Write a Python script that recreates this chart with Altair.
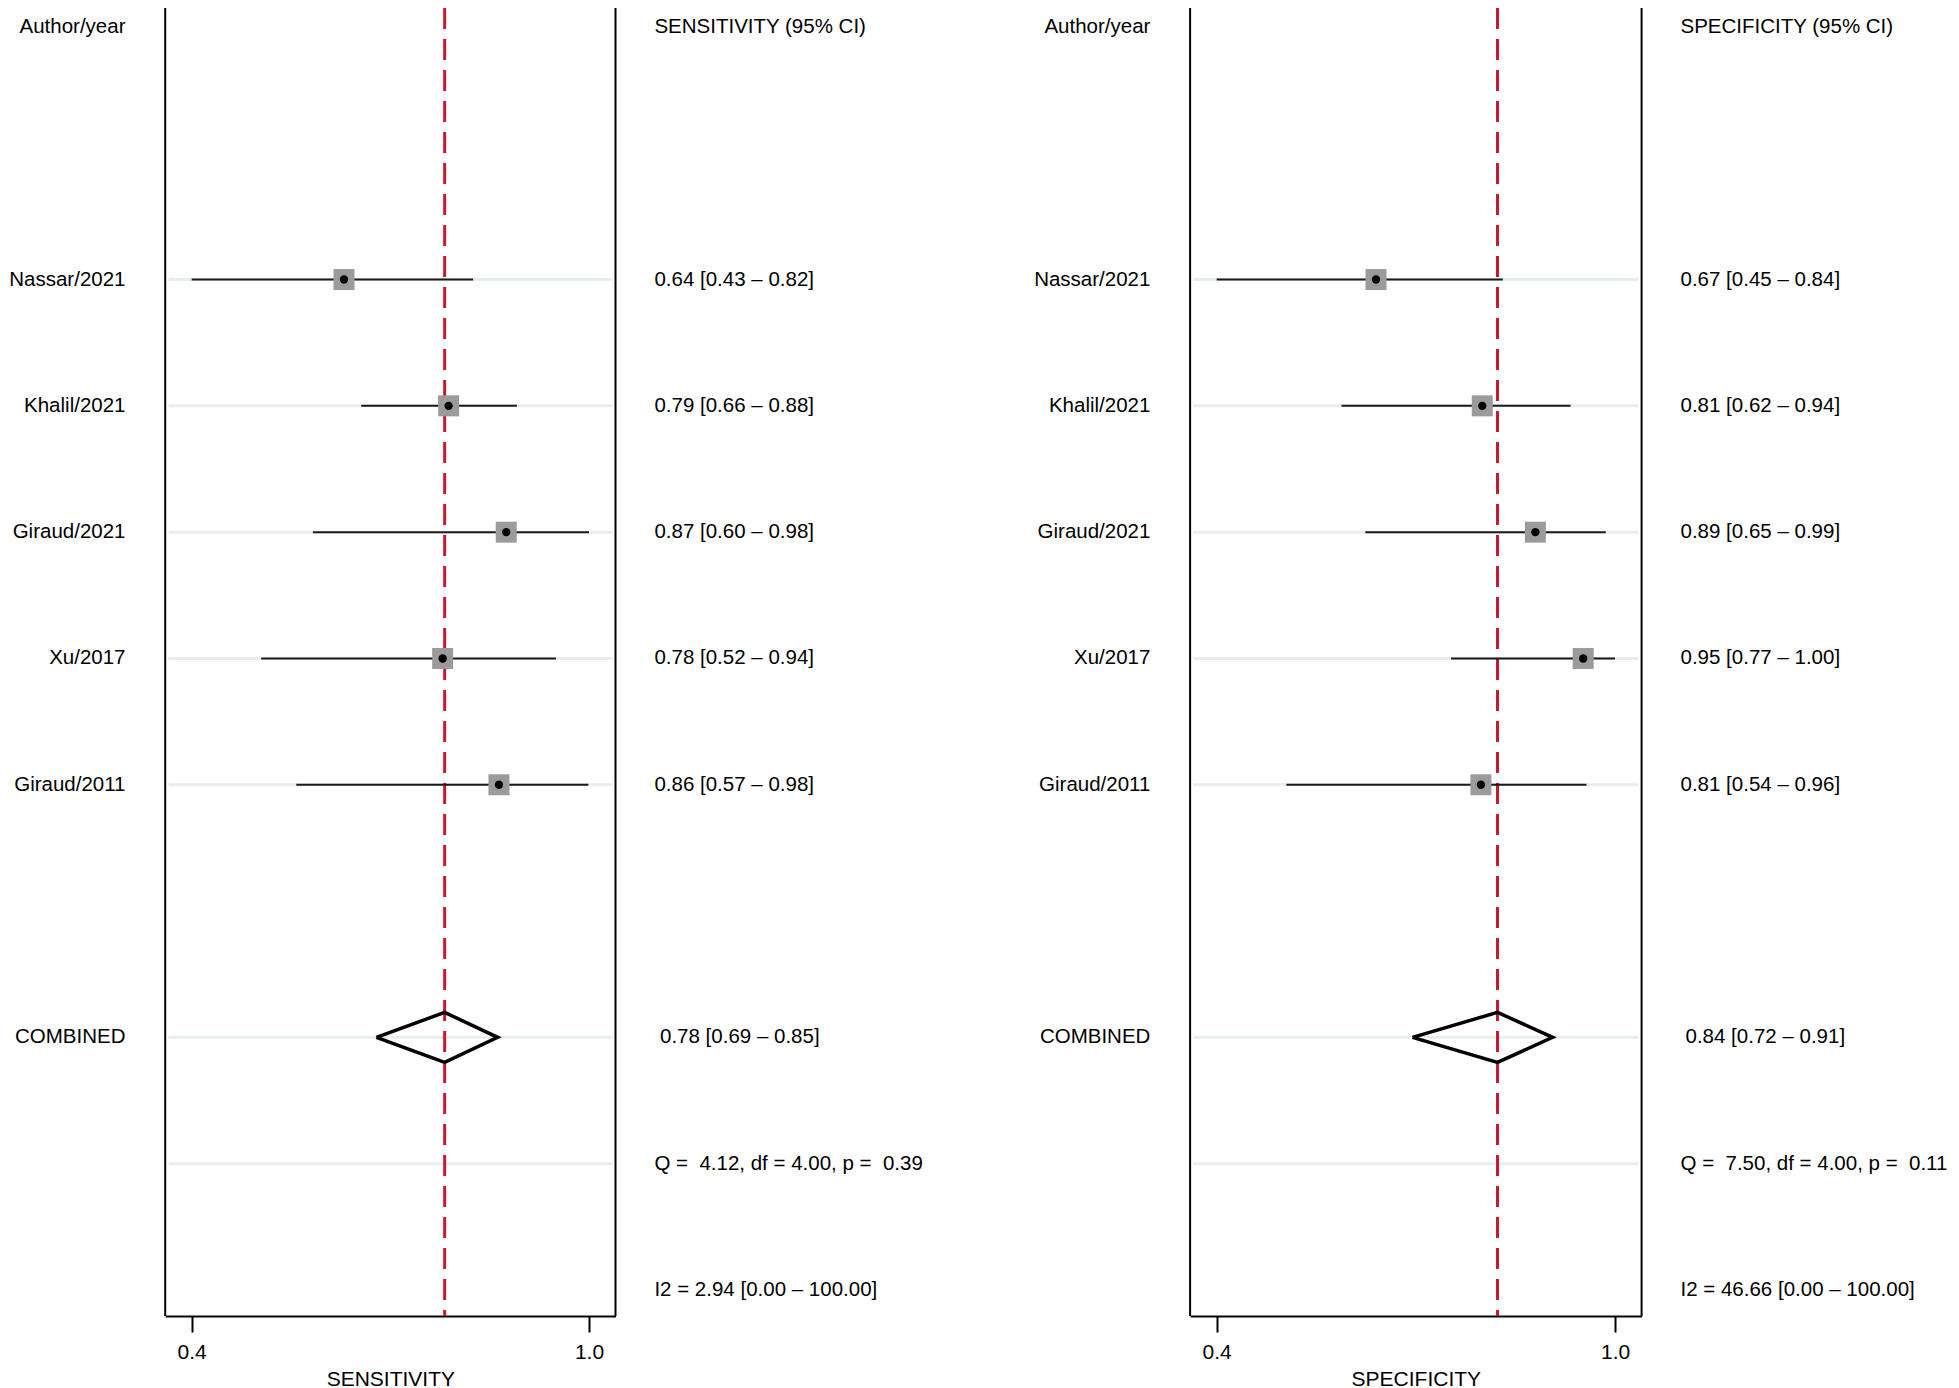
import altair as alt
import pandas as pd

# ---------------- data ----------------
studies = ["Nassar/2021", "Khalil/2021", "Giraud/2021", "Xu/2017", "Giraud/2011"]
study_rows = [2, 3, 4, 5, 6]
combined_row = 8
q_row = 9
i2_row = 10
grid_rows = [2, 3, 4, 5, 6, 8, 9]

# plotted positions
sens_est = [0.630, 0.788, 0.875, 0.779, 0.864]
sens_lo = [0.400, 0.656, 0.583, 0.505, 0.558]
sens_hi = [0.825, 0.891, 1.000, 0.950, 0.999]
sens_pooled = {"est": 0.782, "lo": 0.679, "hi": 0.862}

spec_est = [0.640, 0.800, 0.880, 0.952, 0.798]
spec_lo = [0.400, 0.588, 0.624, 0.753, 0.505]
spec_hi = [0.831, 0.933, 0.986, 1.000, 0.957]
spec_pooled = {"est": 0.823, "lo": 0.695, "hi": 0.906}

# printed texts
sens_text = ["0.64 [0.43 \u2013 0.82]", "0.79 [0.66 \u2013 0.88]", "0.87 [0.60 \u2013 0.98]",
             "0.78 [0.52 \u2013 0.94]", "0.86 [0.57 \u2013 0.98]"]
sens_combined_text = "0.78 [0.69 \u2013 0.85]"
sens_q_text = "Q = \u00a04.12, df = 4.00, p = \u00a00.39"
sens_i2_text = "I2 = 2.94 [0.00 \u2013 100.00]"

spec_text = ["0.67 [0.45 \u2013 0.84]", "0.81 [0.62 \u2013 0.94]", "0.89 [0.65 \u2013 0.99]",
             "0.95 [0.77 \u2013 1.00]", "0.81 [0.54 \u2013 0.96]"]
spec_combined_text = "0.84 [0.72 \u2013 0.91]"
spec_q_text = "Q = \u00a07.50, df = 4.00, p = \u00a00.11"
spec_i2_text = "I2 = 46.66 [0.00 \u2013 100.00]"

x_domain = [0.36, 1.04]
x_ticks = [0.4, 1.0]

# ---------------- layout ----------------
W = 1943
H = 1308
FONT = "Liberation Sans, Arial, sans-serif"
FS = 20.5
DIAMOND_HALF = 0.198
GRID_LO, GRID_HI = 0.365, 1.035

yscale = alt.Scale(domain=[-0.15, 10.206], reverse=True, nice=False, zero=False)


def panel(est, lo, hi, pooled, texts, comb_text, q_text, i2_text, title, header,
          xrange, name_x, val_x, comb_x):
    xs = alt.Scale(domain=x_domain, range=xrange, nice=False, zero=False)
    ax = alt.Axis(orient="bottom", values=x_ticks, format=".1f", grid=False,
                  tickSize=16, tickWidth=2, tickColor="black", domainColor="black",
                  domainWidth=2, labelFontSize=21, labelColor="black", labelFont=FONT,
                  labelPadding=9, titleFontSize=21, titleFont=FONT, titleFontWeight="normal",
                  titleColor="black", titlePadding=6, labelFlush=False)

    def X(field):
        return alt.X(field, type="quantitative", scale=xs, axis=ax, title=title)

    def Y(field="row"):
        return alt.Y(field, type="quantitative", scale=yscale, axis=None)

    sdf = pd.DataFrame({"study": studies, "row": study_rows, "est": est, "lo": lo,
                        "hi": hi, "txt": texts})
    gdf = pd.DataFrame({"row": grid_rows, "lo": [GRID_LO] * len(grid_rows),
                        "hi": [GRID_HI] * len(grid_rows)})
    fdf = pd.DataFrame({"x": x_domain})
    pdf = pd.DataFrame({"est": [pooled["est"]]})
    ddf = pd.DataFrame({
        "x": [pooled["lo"], pooled["est"], pooled["hi"], pooled["est"], pooled["lo"]],
        "row": [combined_row, combined_row - DIAMOND_HALF, combined_row,
                combined_row + DIAMOND_HALF, combined_row],
        "ord": [0, 1, 2, 3, 4],
    })
    name_df = pd.DataFrame({"row": [0] + study_rows + [combined_row],
                            "txt": ["Author/year"] + studies + ["COMBINED"]})
    val_df = pd.DataFrame({"row": [0] + study_rows + [q_row, i2_row],
                           "txt": [header] + texts + [q_text, i2_text]})
    comb_df = pd.DataFrame({"row": [combined_row], "txt": [comb_text]})

    grid = alt.Chart(gdf).mark_rule(color="#e6edf1", strokeWidth=3).encode(
        x=X("lo"), x2="hi", y=Y())
    frame = alt.Chart(fdf).mark_rule(color="black", strokeWidth=2).encode(
        x=X("x"), y=alt.value(0), y2=alt.value(H))
    ci = alt.Chart(sdf).mark_rule(color="#1a1a1a", strokeWidth=2).encode(
        x=X("lo"), x2="hi", y=Y())
    ref = alt.Chart(pdf).mark_rule(color="#c8192e", strokeWidth=3, strokeDash=[21, 10]).encode(
        x=X("est"), y=alt.value(0), y2=alt.value(H))
    sq = alt.Chart(sdf).mark_square(size=441, color="#9b9b9b", opacity=1, filled=True).encode(
        x=X("est"), y=Y())
    dot = alt.Chart(sdf).mark_circle(size=70, color="black", opacity=1).encode(
        x=X("est"), y=Y())
    diamond = alt.Chart(ddf).mark_line(color="black", strokeWidth=3.5, strokeJoin="miter").encode(
        x=X("x"), y=Y(), order="ord:Q")
    names = alt.Chart(name_df).mark_text(align="right", baseline="middle", fontSize=FS,
                                         font=FONT, color="black").encode(
        x=alt.value(name_x), y=Y(), text="txt:N")
    vals = alt.Chart(val_df).mark_text(align="left", baseline="middle", fontSize=FS,
                                       font=FONT, color="black").encode(
        x=alt.value(val_x), y=Y(), text="txt:N")
    comb = alt.Chart(comb_df).mark_text(align="left", baseline="middle", fontSize=FS,
                                        font=FONT, color="black").encode(
        x=alt.value(comb_x), y=Y(), text="txt:N")

    return alt.layer(grid, ref, ci, sq, dot, diamond, frame, names, vals, comb)


left = panel(sens_est, sens_lo, sens_hi, sens_pooled, sens_text, sens_combined_text,
             sens_q_text, sens_i2_text, "SENSITIVITY", "SENSITIVITY (95% CI)",
             [157.2, 607.5], 117.5, 646.4, 652)
right = panel(spec_est, spec_lo, spec_hi, spec_pooled, spec_text, spec_combined_text,
              spec_q_text, spec_i2_text, "SPECIFICITY", "SPECIFICITY (95% CI)",
              [1182.1, 1633.6], 1142.4, 1672.5, 1677.5)

chart = (
    alt.layer(left, right)
    .resolve_scale(x="independent")
    .properties(width=W, height=H,
                autosize=alt.AutoSizeParams(type="none"),
                padding={"left": 0, "top": 0, "right": 0, "bottom": 72},
                background="white")
    .configure(font=FONT)
    .configure_view(strokeWidth=0, stroke="transparent")
)

chart.save("out.html", embed_options={"renderer": "svg", "actions": False})
